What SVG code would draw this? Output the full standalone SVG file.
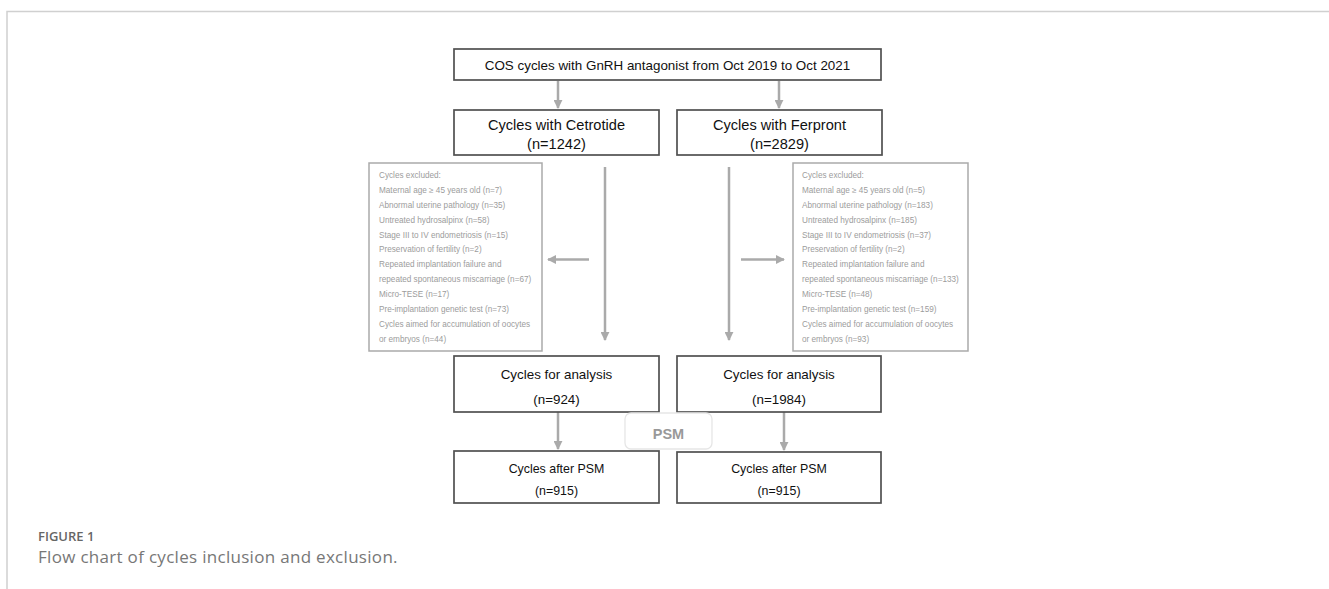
<svg xmlns="http://www.w3.org/2000/svg" width="1329" height="589" viewBox="0 0 1329 589">
<style>
.box{fill:#fff;stroke:#505050;stroke-width:1.7}
.ex{fill:#fff;stroke:#aaa;stroke-width:1.5}
.t{font-family:"Liberation Sans",Arial,sans-serif;fill:#111;text-anchor:middle}
.e{font-family:"Liberation Sans",Arial,sans-serif;fill:#9c9c9c;font-size:8.2px}
.c{stroke:#aaa;stroke-width:2.5;fill:none}
</style>
<defs>
<marker id="ah" viewBox="0 0 10 10" refX="9" refY="5" markerWidth="3.6" markerHeight="3.6" markerUnits="strokeWidth" orient="auto">
<path d="M0,0 L10,5 L0,10 z" fill="#aaa"/>
</marker>
</defs>
<rect width="1329" height="589" fill="#fff"/>
<g id="frame">
<path d="M7,589 V11.5 H1329" fill="none" stroke="#d0d0d0" stroke-width="1.5"/>
</g>
<g id="connectors">
<path class="c" d="M558,81 V108" marker-end="url(#ah)"/>
<path class="c" d="M779,81 V108" marker-end="url(#ah)"/>
<path class="c" d="M605,167 V340" marker-end="url(#ah)"/>
<path class="c" d="M729,167 V340" marker-end="url(#ah)"/>
<path class="c" d="M589,259.5 H548" marker-end="url(#ah)"/>
<path class="c" d="M741,259.5 H784" marker-end="url(#ah)"/>
<path class="c" d="M558,412 V449" marker-end="url(#ah)"/>
<path class="c" d="M784,412 V450" marker-end="url(#ah)"/>
</g>
<g id="n-top">
<rect class="box" x="454" y="49" width="427" height="31"/>
<text class="t" x="667.5" y="70" font-size="13.4">COS cycles with GnRH antagonist from Oct 2019 to Oct 2021</text>
</g>
<g id="n-cetrotide">
<rect class="box" x="454" y="110" width="205" height="45"/>
<text class="t" x="556.5" y="130" font-size="14.6">Cycles with Cetrotide</text>
<text class="t" x="556.5" y="149" font-size="14.6">(n=1242)</text>
</g>
<g id="n-ferpront">
<rect class="box" x="677" y="110" width="205" height="45"/>
<text class="t" x="779.5" y="130" font-size="14.6">Cycles with Ferpront</text>
<text class="t" x="779.5" y="149" font-size="14.6">(n=2829)</text>
</g>
<g id="n-excl-left">
<rect class="ex" x="369" y="163" width="173" height="188"/>
<text class="e" x="379" y="178">Cycles excluded:</text>
<text class="e" x="379" y="192.9">Maternal age ≥ 45 years old (n=7)</text>
<text class="e" x="379" y="207.8">Abnormal uterine pathology (n=35)</text>
<text class="e" x="379" y="222.6">Untreated hydrosalpinx (n=58)</text>
<text class="e" x="379" y="237.5">Stage III to IV endometriosis (n=15)</text>
<text class="e" x="379" y="252.4">Preservation of fertility (n=2)</text>
<text class="e" x="379" y="267.3">Repeated implantation failure and</text>
<text class="e" x="379" y="282.2">repeated spontaneous miscarriage (n=67)</text>
<text class="e" x="379" y="297">Micro-TESE (n=17)</text>
<text class="e" x="379" y="311.9">Pre-implantation genetic test (n=73)</text>
<text class="e" x="379" y="326.8">Cycles aimed for accumulation of oocytes</text>
<text class="e" x="379" y="341.7">or embryos (n=44)</text>
</g>
<g id="n-excl-right">
<rect class="ex" x="793" y="163" width="175" height="188"/>
<text class="e" x="802" y="178">Cycles excluded:</text>
<text class="e" x="802" y="192.9">Maternal age ≥ 45 years old (n=5)</text>
<text class="e" x="802" y="207.8">Abnormal uterine pathology (n=183)</text>
<text class="e" x="802" y="222.6">Untreated hydrosalpinx (n=185)</text>
<text class="e" x="802" y="237.5">Stage III to IV endometriosis (n=37)</text>
<text class="e" x="802" y="252.4">Preservation of fertility (n=2)</text>
<text class="e" x="802" y="267.3">Repeated implantation failure and</text>
<text class="e" x="802" y="282.2">repeated spontaneous miscarriage (n=133)</text>
<text class="e" x="802" y="297">Micro-TESE (n=48)</text>
<text class="e" x="802" y="311.9">Pre-implantation genetic test (n=159)</text>
<text class="e" x="802" y="326.8">Cycles aimed for accumulation of oocytes</text>
<text class="e" x="802" y="341.7">or embryos (n=93)</text>
</g>
<g id="n-analysis-left">
<rect class="box" x="454" y="356" width="205" height="56"/>
<text class="t" x="556.5" y="378.5" font-size="13.4">Cycles for analysis</text>
<text class="t" x="556.5" y="403.5" font-size="13.4">(n=924)</text>
</g>
<g id="n-analysis-right">
<rect class="box" x="677" y="356" width="204" height="56"/>
<text class="t" x="779" y="378.5" font-size="13.4">Cycles for analysis</text>
<text class="t" x="779" y="403.5" font-size="13.4">(n=1984)</text>
</g>
<g id="n-psm">
<rect x="625" y="413" width="87" height="36" rx="6" fill="#fff" stroke="#e6e6e6" stroke-width="1.3"/>
<text x="668.5" y="439" font-family="Liberation Sans,Arial,sans-serif" font-weight="bold" font-size="14.5" fill="#999" text-anchor="middle">PSM</text>
</g>
<g id="n-after-left">
<rect class="box" x="454" y="451" width="205" height="52"/>
<text class="t" x="556.5" y="472.5" font-size="12.4">Cycles after PSM</text>
<text class="t" x="556.5" y="494.5" font-size="12.4">(n=915)</text>
</g>
<g id="n-after-right">
<rect class="box" x="677" y="452" width="204" height="51"/>
<text class="t" x="779" y="472.5" font-size="12.4">Cycles after PSM</text>
<text class="t" x="779" y="494.5" font-size="12.4">(n=915)</text>
</g>
<g id="caption">
<text x="38" y="541" font-family="'Open Sans',Lato,sans-serif" font-weight="600" font-size="13" fill="#666">FIGURE 1</text>
<text x="38" y="563" font-family="'Open Sans',Lato,sans-serif" font-size="17" letter-spacing="0.3" fill="#777">Flow chart of cycles inclusion and exclusion.</text>
</g>
</svg>
